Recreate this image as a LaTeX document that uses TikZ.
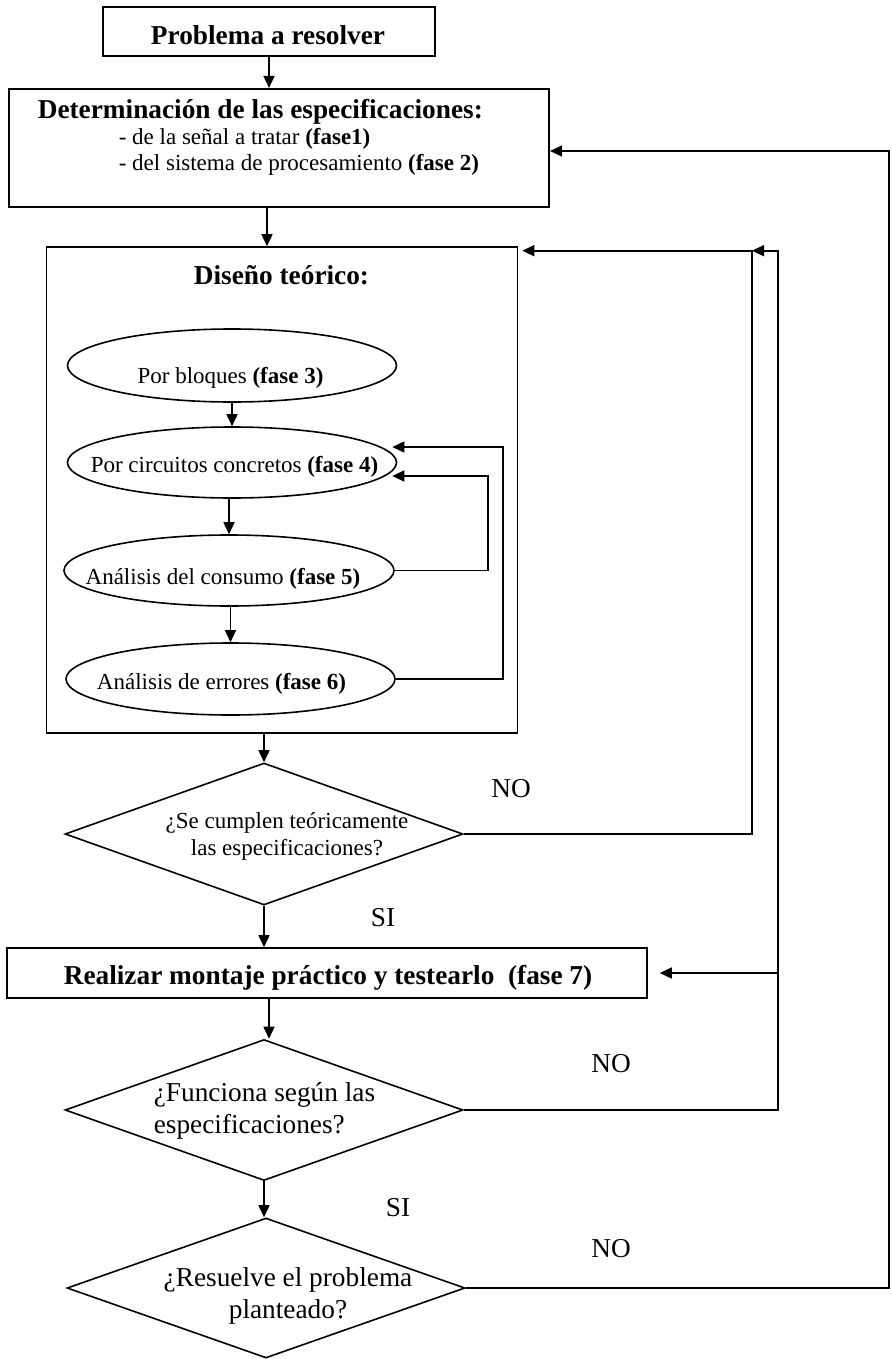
\documentclass[tikz,border=0pt]{standalone}
\usepackage{fontspec}
\setmainfont{Liberation Serif}
\usetikzlibrary{shapes.geometric,arrows.meta}
\begin{document}
\begin{tikzpicture}[x=1pt,y=-1pt,
  line width=1.6pt,
  arr/.style={-{Triangle[length=12pt,width=11pt]}},
  boxnode/.style={draw, rectangle, inner sep=0pt},
  ell/.style={draw, ellipse, inner sep=0pt},
  dia/.style={draw, diamond, inner sep=0pt},
  txt/.style={inner sep=0pt},
  big/.style={font=\fontsize{27.3}{32}\selectfont},
  small/.style={font=\fontsize{23}{27}\selectfont},
]
\useasboundingbox (0,0) rectangle (891,1359);

% main boxes
\node[boxnode, minimum width=332pt, minimum height=49pt] (b1) at (269,31.5) {};
\node[txt, big, anchor=base] (t1) at (268,45) {\bfseries Problema a resolver};

\node[boxnode, minimum width=540.5pt, minimum height=118.5pt] (b2) at (279,148) {};
\node[txt, big, anchor=base west] (t2a) at (37,119) {\bfseries Determinación de las especificaciones:};
\node[txt, small, anchor=base west] (t2b) at (118,144.5) {- de la señal a tratar \textbf{(fase1)}};
\node[txt, small, anchor=base west] (t2c) at (118,170.5) {- del sistema de procesamiento \textbf{(fase 2)}};

\node[boxnode, minimum width=471pt, minimum height=486pt] (b3) at (282,490) {};
\node[txt, big, anchor=base] (t3) at (281.5,284) {\bfseries Diseño teórico:};

% ellipses
\node[ell, minimum width=329pt, minimum height=73pt] (e1) at (232,365.5) {};
\node[txt, small, anchor=base] (te1) at (230.5,383.5) {Por bloques \textbf{(fase 3)}};
\node[ell, minimum width=329pt, minimum height=71pt] (e2) at (232,462.5) {};
\node[txt, small, anchor=base] (te2) at (234.5,472.5) {Por circuitos concretos \textbf{(fase 4)}};
\node[ell, minimum width=330pt, minimum height=71pt] (e3) at (229,570.5) {};
\node[txt, small, anchor=base] (te3) at (223,584.5) {Análisis del consumo \textbf{(fase 5)}};
\node[ell, minimum width=329pt, minimum height=72pt] (e4) at (230.5,679) {};
\node[txt, small, anchor=base] (te4) at (221.5,689.5) {Análisis de errores \textbf{(fase 6)}};

% decision 1
\node[dia, minimum width=398pt, minimum height=142pt] (d1) at (264,834) {};
\node[txt, small, align=center, font=\fontsize{23}{27}\selectfont] (td1) at (287,836) {¿Se cumplen teóricamente\\las especificaciones?};

% box 7
\node[boxnode, minimum width=640pt, minimum height=50pt] (b7) at (327,973) {};
\node[txt, big, anchor=base] (t7) at (328,984) {\bfseries Realizar montaje práctico y testearlo\ \ (fase 7)};

% decision 2
\node[dia, minimum width=398pt, minimum height=141pt] (d2) at (264,1110) {};
\node[txt, big, align=left, anchor=west] (td2) at (153,1111) {¿Funciona según las\\especificaciones?};

% decision 3
\node[dia, minimum width=398pt, minimum height=140pt] (d3) at (266,1288) {};
\node[txt, big, align=center] (td3) at (288,1296) {¿Resuelve el problema\\planteado?};

% labels
\node[txt, big] (no1) at (511,789) {NO};
\node[txt, big] (si1) at (383,918) {SI};
\node[txt, big] (no2) at (611,1064) {NO};
\node[txt, big] (si2) at (398,1208) {SI};
\node[txt, big] (no3) at (611,1249) {NO};

% coordinates for loops
\coordinate (l1) at (488,476);
\coordinate (l2) at (503,447);
\coordinate (r1) at (752,250.7);
\coordinate (r2) at (778,250.7);
\coordinate (r3) at (889,151);

% main flow
\draw[arr] (b1.south) -- (b1.south |- b2.north);
\draw[arr] ([xshift=-12pt]b2.south) -- ([xshift=-12pt]b2.south |- b3.north);
\draw[arr] (e1.south) -- (e2.north);
\draw[arr] (e3.north |- e2.south) -- (e3.north);
\draw[arr] (e4.north |- e3.south) -- (e4.north);
\draw[arr] (d1.north |- b3.south) -- (d1.north);
\draw[arr] (d1.south) -- (d1.south |- b7.north);
\draw[arr] ([xshift=5pt]d2.north |- b7.south) -- ([xshift=5pt]d2.north);
\draw[arr] (d2.south) -- (d2.south |- d3.north);

% inner loops
\draw[arr] (e3.east) -| (l1) -- ([xshift=-5pt]l1 -| e2.east);
\draw[arr] (e4.east) -| (l2) -- ([xshift=-5pt]l2 -| e2.east);

% outer loops
\draw[arr, shorten >=4pt] (d1.east) -| (r1) -- (r1 -| b3.east);
\draw[arr] (d2.east) -| (r2) -- (r1);
\draw[arr, shorten >=12pt] (r2 |- b7.east) -- (b7.east);
\draw[arr] (d3.east) -| (r3) -- (r3 -| b2.east);
\end{tikzpicture}
\end{document}
